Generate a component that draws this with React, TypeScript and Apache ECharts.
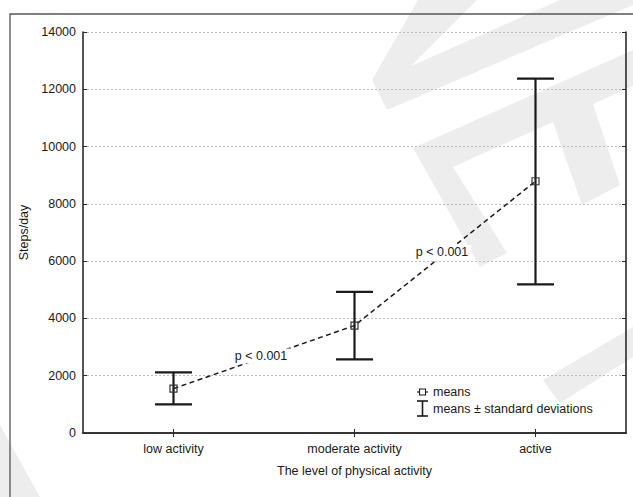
import React, { useEffect, useRef } from "react";
import * as echarts from "echarts";

// ---- data ----
const categories = ["low activity", "moderate activity", "active"];
const means = [1550, 3750, 8790];
const sdLow = [1000, 2570, 5190];
const sdHigh = [2120, 4930, 12370];
const yMin = 0;
const yMax = 14000;
const yInterval = 2000;
const pLabels = ["p < 0.001", "p < 0.001"];
const legendLabels = ["means", "means ± standard deviations"];
const xTitle = "The level of physical activity";
const yTitle = "Steps/day";

// ---- decoration (background watermark shapes, page pixels) ----
const watermarkA = [[418, 0], [372, 80], [387, 110], [633, 5], [633, 0], [560, 0], [411, 66], [477, 0]];
const watermarkB = [[413, 148], [480, 267], [507, 253], [453, 167], [553, 122], [582, 205], [620, 185], [593, 104], [633, 86], [633, 50]];
const watermarkC = [[543, 380], [633, 327], [633, 357], [560, 403]];
const watermarkD = [[0, 425], [40, 497], [0, 497]];

const FONT = "'Liberation Sans', Arial, Helvetica, sans-serif";
const INK = "#1a1a1a";
const AXIS = "#2a2a2a";
const FS = 12.5;

export default function App() {
  const ref = useRef<HTMLDivElement>(null);

  useEffect(() => {
    if (!ref.current) return;
    const chart = echarts.init(ref.current, null, { renderer: "svg" });

    const axisLine = { show: true, lineStyle: { color: AXIS, width: 1.6 } };

    chart.setOption({
      animation: false,
      backgroundColor: "#fff",
      textStyle: { fontFamily: FONT },
      grid: { left: 83, top: 32, right: 7, bottom: 64 },
      xAxis: [
        {
          type: "category",
          data: categories,
          position: "bottom",
          boundaryGap: true,
          axisLine,
          axisTick: { show: true, inside: true, length: 4, alignWithLabel: true, lineStyle: { color: AXIS } },
          axisLabel: { color: INK, fontSize: FS, fontFamily: FONT, margin: 9 },
          splitLine: { show: false },
          name: xTitle,
          nameLocation: "middle",
          nameGap: 31,
          nameTextStyle: { color: INK, fontSize: FS, fontFamily: FONT },
        },
        {
          type: "category",
          data: categories,
          position: "top",
          boundaryGap: true,
          axisLine,
          axisTick: { show: true, inside: true, length: 4, alignWithLabel: true, lineStyle: { color: AXIS } },
          axisLabel: { show: false },
          splitLine: { show: false },
        },
      ],
      yAxis: [
        {
          type: "value",
          min: yMin,
          max: yMax,
          interval: yInterval,
          axisLine,
          axisTick: { show: true, inside: true, length: 4, lineStyle: { color: AXIS } },
          axisLabel: { color: INK, fontSize: FS, fontFamily: FONT, margin: 7, formatter: (v: number) => String(v) },
          splitLine: { show: true, lineStyle: { color: "#bdbdbd", width: 1, type: [2, 2] } },
          name: yTitle,
          nameLocation: "middle",
          nameRotate: 90,
          nameGap: 37,
          nameTextStyle: { color: INK, fontSize: FS, fontFamily: FONT },
        },
        {
          type: "value",
          position: "right",
          min: yMin,
          max: yMax,
          interval: yInterval,
          axisLine,
          axisTick: { show: true, inside: true, length: 4, lineStyle: { color: AXIS } },
          axisLabel: { show: false },
          splitLine: { show: false },
        },
      ],
      series: [
        {
          type: "custom",
          name: legendLabels[1],
          silent: true,
          z: 2,
          data: categories.map((_, i) => [i, sdLow[i], sdHigh[i]]),
          encode: { x: 0, y: [1, 2] },
          renderItem: (_params: any, api: any) => {
            const x = api.value(0);
            const lo = api.coord([x, api.value(1)]);
            const hi = api.coord([x, api.value(2)]);
            const half = 18.5;
            const style = { stroke: INK, lineWidth: 2.2 };
            return {
              type: "group",
              children: [
                { type: "line", shape: { x1: lo[0], y1: lo[1], x2: hi[0], y2: hi[1] }, style },
                { type: "line", shape: { x1: hi[0] - half, y1: hi[1], x2: hi[0] + half, y2: hi[1] }, style },
                { type: "line", shape: { x1: lo[0] - half, y1: lo[1], x2: lo[0] + half, y2: lo[1] }, style },
              ],
            };
          },
        },
        {
          type: "line",
          name: legendLabels[0],
          silent: true,
          z: 3,
          data: means,
          symbol: "rect",
          symbolSize: 7,
          lineStyle: { color: INK, width: 1.5, type: [5, 3.5] },
          itemStyle: { color: "rgba(255,255,255,0)", borderColor: "#333", borderWidth: 1.2 },
        },
      ],
    });

    const pts = means.map((m, i) => chart.convertToPixel({ seriesIndex: 1 }, [i, m]) as number[]);
    const pText = pLabels.map((t, i) => {
      const a = pts[i];
      const b = pts[i + 1];
      return {
        type: "text",
        z: 50,
        silent: true,
        x: (a[0] + b[0]) / 2 - 3,
        y: (a[1] + b[1]) / 2 - 1,
        style: {
          text: t,
          fill: INK,
          fontSize: FS,
          fontFamily: FONT,
          align: "center",
          verticalAlign: "middle",
          backgroundColor: "#fff",
          padding: [1, 3],
        },
      };
    });

    const wm = (points: number[][]) => ({
      type: "polygon",
      z: -10,
      silent: true,
      shape: { points },
      style: { fill: "#ededed" },
    });

    const lx = 417;
    const ly1 = 392;
    const ly2 = 408.5;
    const legend = [
      { type: "line", z: 40, silent: true, shape: { x1: lx, y1: ly1, x2: lx + 11, y2: ly1 }, style: { stroke: INK, lineWidth: 1.2 } },
      { type: "rect", z: 41, silent: true, shape: { x: lx + 2.5, y: ly1 - 3, width: 6, height: 6 }, style: { fill: "#fff", stroke: INK, lineWidth: 1.1 } },
      { type: "text", z: 40, silent: true, x: lx + 16, y: ly1, style: { text: legendLabels[0], fill: INK, fontSize: FS, fontFamily: FONT, align: "left", verticalAlign: "middle" } },
      { type: "line", z: 40, silent: true, shape: { x1: lx + 5.5, y1: ly2 - 7.5, x2: lx + 5.5, y2: ly2 + 7.5 }, style: { stroke: INK, lineWidth: 1.6 } },
      { type: "line", z: 40, silent: true, shape: { x1: lx, y1: ly2 - 7.5, x2: lx + 11, y2: ly2 - 7.5 }, style: { stroke: INK, lineWidth: 1.6 } },
      { type: "line", z: 40, silent: true, shape: { x1: lx, y1: ly2 + 7.5, x2: lx + 11, y2: ly2 + 7.5 }, style: { stroke: INK, lineWidth: 1.6 } },
      { type: "text", z: 40, silent: true, x: lx + 16, y: ly2, style: { text: legendLabels[1], fill: INK, fontSize: FS, fontFamily: FONT, align: "left", verticalAlign: "middle" } },
    ];

    chart.setOption({
      graphic: [
        wm(watermarkA),
        wm(watermarkB),
        wm(watermarkC),
        wm(watermarkD),
        {
          type: "rect",
          z: -5,
          silent: true,
          shape: { x: 10, y: 14, width: 700, height: 600 },
          style: { fill: "none", stroke: "#555", lineWidth: 1.3 },
        },
        ...pText,
        ...legend,
      ],
    });

    return () => chart.dispose();
  }, []);

  return (
    <div
      ref={ref}
      style={{ position: "fixed", left: 0, top: 0, width: 633, height: 497, background: "#fff" }}
    />
  );
}
